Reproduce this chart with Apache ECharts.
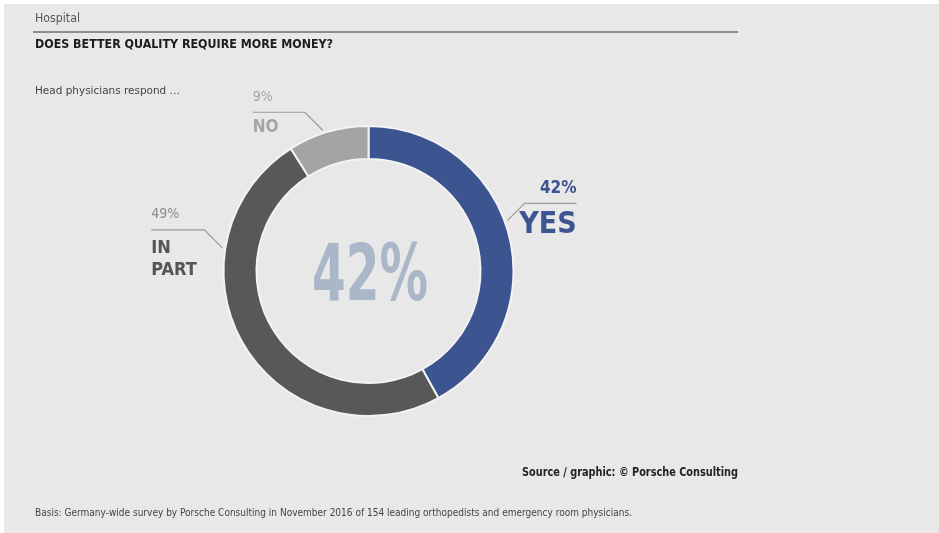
<!DOCTYPE html>
<html>
<head>
<meta charset="utf-8">
<script src="https://cdn.jsdelivr.net/npm/echarts@6/dist/echarts.min.js"></script>
<style>
  html, body { margin: 0; padding: 0; background: #ffffff; }
  #chart { position: absolute; left: 4px; top: 4px; width: 935px; height: 529px; }
</style>
</head>
<body>
<div id="chart"></div>
<script>
// Survey answers: "Does better quality require more money?"
var categories = ['YES', 'IN PART', 'NO'];
var shares = [42, 49, 9];               // percent of head physicians
var nameLines = [['YES'], ['IN', 'PART'], ['NO']];

// Styling
var sliceColors = ['#3c5490', '#585858', '#a4a4a4'];
var labelColors = ['#3c5490', '#555555', '#a4a4a4'];
var pctColors = ['#3c5490', '#8a8a8a', '#a4a4a4'];
var FONT = '"DejaVu Sans Condensed", "DejaVu Sans", sans-serif';

// Ring geometry (px, inside the chart div)
var CX = 364.5, CY = 267, R_IN = 112, R_OUT = 145;
// Leader lines: angle (deg, ccw from +x) where the line touches the ring,
// which side the label hangs, and segment lengths
var leaders = [
  { angle: 20, side: 'right', diag: 17, run: 52 },
  { angle: 171, side: 'left', diag: 18, run: 53 },
  { angle: 108, side: 'left', diag: 18, run: 52 }
];

// Condensed text: squeeze a string horizontally to a given width
var measureCtx = document.createElement('canvas').getContext('2d');
function squeezed(str, left, midY, width, size, weight, color, align) {
  measureCtx.font = weight + ' ' + size + 'px ' + FONT;
  var w = measureCtx.measureText(str).width;
  return {
    type: 'text', x: left, y: midY, scaleX: width / w, scaleY: 1,
    style: { text: str, x: 0, y: 0, align: align || 'left', verticalAlign: 'middle',
             fontFamily: FONT, fontSize: size, fontWeight: weight, fill: color }
  };
}

var chart = echarts.init(document.getElementById('chart'), null, { renderer: 'canvas' });

var data = categories.map(function (c, i) {
  var parts = ['{pct|' + shares[i] + '%}'];
  if (nameLines[i].length > 1) parts.push('{sp| }');
  nameLines[i].forEach(function (l) { parts.push('{name|' + l + '}'); });
  var big = i === 0;
  var al = leaders[i].side === 'right' ? 'right' : 'left';
  return {
    name: c,
    value: shares[i],
    itemStyle: { color: sliceColors[i] },
    label: {
      formatter: parts.join('\n'),
      rich: {
        pct: { fontFamily: FONT, fontSize: big ? 17 : 14, fontWeight: big ? 'bold' : 'normal',
               color: pctColors[i], lineHeight: 30, align: al },
        sp: { fontSize: 4, lineHeight: 7 },
        name: { fontFamily: FONT, fontSize: big ? 30 : (nameLines[i].length > 1 ? 18 : 17), fontWeight: 'bold',
                color: labelColors[i], lineHeight: big ? 44 : (nameLines[i].length > 1 ? 22 : 30),
                align: al }
      }
    },
    labelLine: { lineStyle: { color: '#9a9a9a', width: 1.2 } }
  };
});

chart.setOption({
  backgroundColor: '#e8e8e8',
  animation: false,
  graphic: [
    squeezed('Hospital', 31, 15, 45, 12, 'normal', '#555555'),
    { type: 'line', shape: { x1: 29, y1: 28, x2: 734, y2: 28 },
      style: { stroke: '#8c8c8c', lineWidth: 2 } },
    squeezed('DOES BETTER QUALITY REQUIRE MORE MONEY?', 31, 41, 298, 13, 'bold', '#1c1c1c'),
    squeezed('Head physicians respond …', 31, 87, 145, 11, 'normal', '#444444'),
    squeezed('Source / graphic: © Porsche Consulting', 518, 469, 216, 13, 'bold', '#222222'),
    squeezed('Basis: Germany-wide survey by Porsche Consulting in November 2016 of 154 leading orthopedists and emergency room physicians.',
             31, 509, 597, 10, 'normal', '#444444'),
    // Big centre figure: the YES share
    squeezed(shares[0] + '%', CX + 1.5, CY + 9, 116, 78, 'bold', '#aab7c9', 'center')
  ],
  series: [{
    type: 'pie',
    center: [CX, CY],
    radius: [R_IN, R_OUT],
    startAngle: 90,
    clockwise: true,
    avoidLabelOverlap: false,
    itemStyle: { borderColor: '#f3f3f3', borderWidth: 2 },
    label: { show: true, position: 'outside' },
    labelLine: { show: true, length: 10, length2: 10 },
    labelLayout: function (p) {
      var L = leaders[p.dataIndex];
      var a = L.angle * Math.PI / 180;
      var r = R_OUT + 3;
      var sx = CX + r * Math.cos(a), sy = CY - r * Math.sin(a);
      var dir = L.side === 'right' ? 1 : -1;
      var ex = sx + dir * L.diag, ey = sy - L.diag;
      var fx = ex + dir * L.run;
      return {
        x: fx, y: ey - 30,
        align: L.side === 'right' ? 'right' : 'left',
        verticalAlign: 'top',
        labelLinePoints: [[sx, sy], [ex, ey], [fx, ey]]
      };
    },
    data: data
  }]
});
</script>
</body>
</html>
